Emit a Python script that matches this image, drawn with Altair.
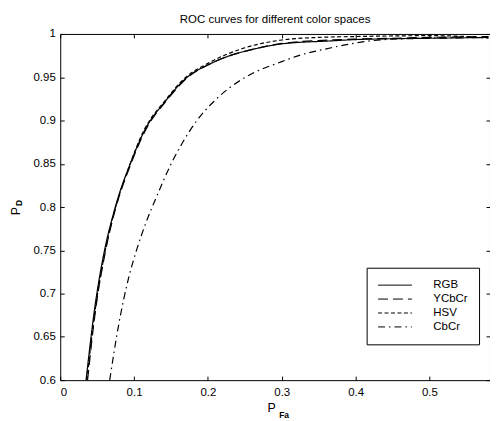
import altair as alt
import pandas as pd

FONT = "Liberation Sans"

names = ["RGB", "YCbCr", "HSV", "CbCr"]
dashes = [[1, 0], [10, 5], [4, 2.5], [7, 4, 1.5, 4]]

rgb_x = [0.035, 0.0465, 0.060, 0.071, 0.078, 0.093, 0.114, 0.143, 0.172, 0.202, 0.230, 0.255, 0.300, 0.367, 0.400, 0.450, 0.500, 0.580]
rgb_y = [0.600, 0.682, 0.750, 0.789, 0.810, 0.846, 0.888, 0.923, 0.950, 0.965, 0.975, 0.981, 0.9885, 0.992, 0.9935, 0.9945, 0.995, 0.996]

ycc_x = [0.037, 0.048, 0.0615, 0.072, 0.079, 0.094, 0.115, 0.144, 0.173, 0.202, 0.230, 0.255, 0.300, 0.367, 0.400, 0.450, 0.500, 0.580]
ycc_y = [0.600, 0.682, 0.750, 0.789, 0.810, 0.846, 0.888, 0.923, 0.950, 0.965, 0.975, 0.981, 0.989, 0.993, 0.994, 0.995, 0.996, 0.997]

hsv_x = [0.036, 0.0475, 0.061, 0.0715, 0.0785, 0.093, 0.113, 0.142, 0.170, 0.200, 0.250, 0.300, 0.350, 0.400, 0.500, 0.550, 0.580]
hsv_y = [0.600, 0.682, 0.750, 0.789, 0.810, 0.846, 0.888, 0.923, 0.950, 0.966, 0.984, 0.993, 0.996, 0.997, 0.998, 0.997, 0.995]

cbcr_x = [0.067, 0.080, 0.092, 0.104, 0.117, 0.130, 0.141, 0.152, 0.164, 0.186, 0.208, 0.228, 0.255, 0.300, 0.323, 0.367, 0.390, 0.420, 0.450, 0.500, 0.580]
cbcr_y = [0.600, 0.668, 0.716, 0.752, 0.784, 0.811, 0.833, 0.853, 0.872, 0.901, 0.922, 0.937, 0.952, 0.968, 0.975, 0.984, 0.988, 0.992, 0.994, 0.995, 0.996]

x_ticks = [0, 0.1, 0.2, 0.3, 0.4, 0.5]
y_ticks = [0.6, 0.65, 0.7, 0.75, 0.8, 0.85, 0.9, 0.95, 1.0]

rows = []
for name, xs, ys in [("RGB", rgb_x, rgb_y), ("YCbCr", ycc_x, ycc_y),
                     ("HSV", hsv_x, hsv_y), ("CbCr", cbcr_x, cbcr_y)]:
    for i, (a, b) in enumerate(zip(xs, ys)):
        rows.append({"series": name, "pfa": a, "pd": b, "order": i})
df = pd.DataFrame(rows)

xscale = alt.Scale(domain=[0, 0.582], nice=False, zero=False)
yscale = alt.Scale(domain=[0.6, 1.0], nice=False, zero=False)

common_axis = dict(offset=-4, tickSize=4, domain=False, grid=False, title=None,
                   tickColor="black", labelColor="black", labelFont=FONT,
                   labelFontSize=11.5, tickWidth=1)

lines = alt.Chart(df).mark_line(color="black", strokeWidth=1.2, clip=True,
                                interpolate="monotone").encode(
    x=alt.X("pfa:Q", scale=xscale,
            axis=alt.Axis(orient="bottom", values=x_ticks, format=".1~f",
                          labelPadding=6, **common_axis)),
    y=alt.Y("pd:Q", scale=yscale,
            axis=alt.Axis(orient="left", values=y_ticks, format=".2~f",
                          labelPadding=5, **common_axis)),
    strokeDash=alt.StrokeDash(
        "series:N",
        scale=alt.Scale(domain=names, range=dashes),
        legend=alt.Legend(orient="none", legendX=308, legendY=235, title=None,
                          strokeColor="black", fillColor="white", padding=11,
                          symbolType="stroke", symbolSize=1156,
                          symbolStrokeWidth=1, symbolStrokeColor="black",
                          labelFont=FONT, labelFontSize=11.5, labelColor="black",
                          labelOffset=21, rowPadding=1, clipHeight=13,
                          labelLimit=200, cornerRadius=0)),
    order="order:Q",
)

ticks_other = alt.Chart(df).mark_point(opacity=0).encode(
    x=alt.X("pfa:Q", scale=xscale,
            axis=alt.Axis(orient="top", values=x_ticks, labels=False, **common_axis)),
    y=alt.Y("pd:Q", scale=yscale,
            axis=alt.Axis(orient="right", values=y_ticks, labels=False, **common_axis)),
)

def txt(s, x, y, size, angle=0, weight="normal"):
    return alt.Chart(pd.DataFrame({"t": [s]})).mark_text(
        font=FONT, fontSize=size, fontWeight=weight, color="black",
        align="center", baseline="middle", angle=angle
    ).encode(x=alt.value(x), y=alt.value(y), text="t:N")

labels = (txt("P", 212.5, 376, 12.5)
          + txt("Fa", 225, 383, 8.5, weight="bold")
          + txt("P", -44.5, 178, 12.5, angle=270)
          + txt("D", -41.5, 170, 8.5, angle=270, weight="bold"))

chart = alt.layer(lines, ticks_other, labels).resolve_axis(
    x="independent", y="independent"
).properties(
    width=432, height=348,
    autosize=alt.AutoSizeParams(type="none"),
    padding={"left": 52.5, "top": 25, "right": 0, "bottom": 42},
    title=alt.Title("ROC curves for different color spaces", font=FONT,
                    fontSize=11.5, fontWeight="normal", color="black",
                    anchor="middle", offset=3),
).configure_view(stroke="black", strokeWidth=1)

chart.save("out.html", embed_options={"renderer": "svg", "actions": False})
